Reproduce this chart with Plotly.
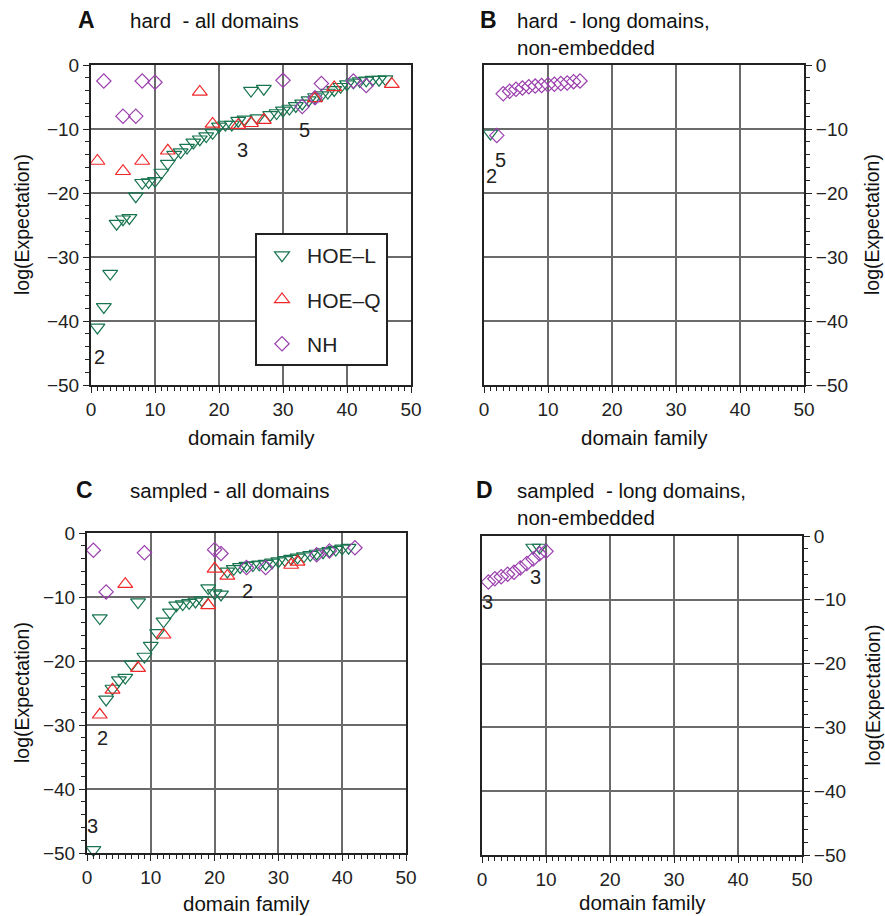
import plotly.graph_objects as go

# ---------------- data ----------------
# Panel A: hard - all domains
A_HOEL_X = list(range(1, 47))
A_HOEL_Y = [-41.0, -37.8, -32.6, -24.8, -24.1, -23.9, -20.5, -18.4, -18.3, -18.1,
            -16.8, -15.4, -14.0, -13.6, -12.9, -12.1, -11.6, -11.1, -10.6, -9.6,
            -9.3, -9.3, -8.7, -8.5, -4.0, -8.3, -3.7, -7.8, -7.5, -7.1,
            -6.8, -6.4, -6.0, -5.5, -5.0, -4.7, -4.3, -3.9, -3.4, -3.0,
            -2.7, -2.5, -2.4, -2.3, -2.3, -2.2]
A_HOEQ_X = [1, 5, 8, 12, 17, 19, 23, 25, 27, 35, 38, 47]
A_HOEQ_Y = [-15.0, -16.6, -15.0, -13.4, -4.2, -9.2, -9.4, -9.1, -8.6, -5.2, -3.5, -3.0]
A_NH_X = [2, 5, 7, 8, 10, 30, 33, 35, 36, 41, 43]
A_NH_Y = [-2.5, -8.0, -8.0, -2.5, -2.7, -2.4, -6.5, -5.1, -2.9, -2.5, -3.2]

# Panel B: hard - long domains, non-embedded
B_HOEL_X = [1]
B_HOEL_Y = [-10.7]
B_NH_X = [2, 3, 4, 5, 6, 7, 8, 9, 10, 11, 12, 13, 14, 15]
B_NH_Y = [-11.0, -4.5, -4.1, -3.8, -3.6, -3.4, -3.3, -3.2, -3.1, -3.0, -2.9, -2.8, -2.6, -2.5]

# Panel C: sampled - all domains
C_HOEL_X = list(range(1, 42))
C_HOEL_Y = [-49.5, -13.3, -26.0, -24.3, -23.0, -22.6, -20.5, -10.8, -19.3, -17.6,
            -15.6, -13.8, -12.4, -11.3, -11.1, -10.9, -10.7, -10.5, -8.6, -9.4,
            -9.6, -6.0, -5.6, -5.3, -5.1, -5.0, -4.9, -4.8, -4.6, -4.4,
            -4.2, -4.0, -3.8, -3.6, -3.4, -3.2, -3.0, -2.8, -2.6, -2.4, -2.3]
C_HOEQ_X = [2, 4, 6, 8, 12, 19, 20, 22, 32, 33]
C_HOEQ_Y = [-28.4, -24.5, -8.0, -21.1, -15.9, -11.3, -5.6, -6.7, -5.0, -4.5]
C_NH_X = [1, 3, 9, 20, 21, 25, 28, 36, 38, 42]
C_NH_Y = [-2.7, -9.2, -3.1, -2.6, -3.2, -5.4, -5.4, -3.4, -2.8, -2.3]

# Panel D: sampled - long domains, non-embedded
D_HOEL_X = [8, 9]
D_HOEL_Y = [-1.8, -1.8]
D_NH_X = [1, 2, 3, 4, 5, 6, 7, 8, 9, 10]
D_NH_Y = [-7.2, -6.7, -6.4, -6.0, -5.7, -5.0, -4.3, -3.6, -2.8, -2.4]

# count labels (x, y, text)
A_LABELS = [(1.4, -45.7, "2"), (23.6, -13.3, "3"), (33.3, -10.2, "5")]
B_LABELS = [(1.2, -17.4, "2"), (2.6, -14.8, "5")]
C_LABELS = [(2.5, -32.0, "2"), (25.1, -9.0, "2"), (0.9, -45.8, "3")]
D_LABELS = [(8.3, -6.4, "3"), (0.9, -10.3, "3")]

SERIES_NAMES = ["HOE\u2013L", "HOE\u2013Q", "NH"]
PANEL_LETTERS = ["A", "B", "C", "D"]
PANEL_TITLES = ["hard\u00a0 - all domains", "hard\u00a0 - long domains,<br>non-embedded",
                "sampled - all domains", "sampled\u00a0 - long domains,<br>non-embedded"]
X_TITLE = "domain family"
Y_TITLE = "log(Expectation)"

# ---------------- style ----------------
W, H = 885, 916
FONT = "Liberation Sans, Arial, Helvetica, sans-serif"
GREEN = "#17744f"
RED = "#f0282a"
PURPLE = "#9b3fae"
STYLES = {
    "HOE\u2013L": dict(symbol="triangle-down-open", color=GREEN),
    "HOE\u2013Q": dict(symbol="triangle-up-open", color=RED),
    "NH": dict(symbol="diamond-open", color=PURPLE),
}

def px(x):
    return x / W

def py(y):
    return 1 - y / H

# panel pixel boxes: (left, right, top, bottom)
BOXES = [(91, 411, 65, 385), (484, 804, 65, 385), (87, 406, 533, 853), (482, 802, 536, 855)]
XTITLE_GAP = [52, 52, 50, 47]

fig = go.Figure()

panels = [
    [(A_HOEL_X, A_HOEL_Y), (A_HOEQ_X, A_HOEQ_Y), (A_NH_X, A_NH_Y)],
    [(B_HOEL_X, B_HOEL_Y), None, (B_NH_X, B_NH_Y)],
    [(C_HOEL_X, C_HOEL_Y), (C_HOEQ_X, C_HOEQ_Y), (C_NH_X, C_NH_Y)],
    [(D_HOEL_X, D_HOEL_Y), None, (D_NH_X, D_NH_Y)],
]
labels = [A_LABELS, B_LABELS, C_LABELS, D_LABELS]

annotations = []
for i, (series, labs) in enumerate(zip(panels, labels)):
    xa = "x" if i == 0 else f"x{i+1}"
    ya = "y" if i == 0 else f"y{i+1}"
    for name, s in zip(SERIES_NAMES, series):
        if s is None:
            continue
        st = STYLES[name]
        size = 11 if name == "NH" else 13
        fig.add_trace(go.Scatter(
            x=s[0], y=s[1], mode="markers", name=name,
            xaxis=xa, yaxis=ya, cliponaxis=False,
            showlegend=(i == 0), legendgroup=name,
            marker=dict(symbol=st["symbol"], size=size, color=st["color"],
                        line=dict(width=1.2, color=st["color"])),
        ))
    for (lx, ly, t) in labs:
        annotations.append(dict(x=lx, y=ly, xref=xa, yref=ya, text=t, showarrow=False,
                                font=dict(size=20, color="#222", family=FONT)))

    l, r, t_, b = BOXES[i]
    right = i in (1, 3)
    axis_common = dict(
        showline=True, linecolor="#222", linewidth=2, mirror=True,
        showgrid=True, gridcolor="#6a6a6a", gridwidth=1.5,
        zeroline=False, ticks="outside", ticklen=6, tickwidth=1.2, tickcolor="#222",
        tickfont=dict(size=19, family=FONT, color="#222"),
        dtick=10, fixedrange=True, automargin=False,
    )
    xkey = "xaxis" if i == 0 else f"xaxis{i+1}"
    ykey = "yaxis" if i == 0 else f"yaxis{i+1}"
    fig.update_layout(**{
        xkey: dict(axis_common, domain=[px(l), px(r)], range=[0, 50], anchor=ya,
                   tick0=0,
                   minor=dict(dtick=1, ticks="outside", ticklen=4, tickwidth=1, tickcolor="#222",
                              showgrid=False)),
        ykey: dict(axis_common, domain=[py(b), py(t_)], range=[-50, 0], anchor=xa,
                   tick0=0, side="right" if right else "left",
                   minor=dict(dtick=2, ticks="outside", ticklen=4, tickwidth=1, tickcolor="#222",
                              showgrid=False)),
    })

    # panel letter + title
    letter_x = [86, 489, 84, 484][i]
    letter_y = [20, 20, 490, 490][i]
    annotations.append(dict(x=px(letter_x), y=py(letter_y), xref="paper", yref="paper",
                            text=f"<b>{PANEL_LETTERS[i]}</b>", showarrow=False,
                            font=dict(size=23, family=FONT, color="#111"),
                            xanchor="center", yanchor="middle"))
    title_x = [128, 515, 128, 515][i]
    annotations.append(dict(x=px(title_x), y=py(letter_y - 13), xref="paper", yref="paper",
                            text=PANEL_TITLES[i], showarrow=False, align="left",
                            font=dict(size=20.5, family=FONT, color="#111"),
                            xanchor="left", yanchor="top"))
    # axis titles
    annotations.append(dict(x=px((l + r) / 2), y=py(b + XTITLE_GAP[i]), xref="paper", yref="paper",
                            text=X_TITLE, showarrow=False,
                            font=dict(size=20.5, family=FONT, color="#111"),
                            xanchor="center", yanchor="middle"))
    ytx = 872 if right else 22
    annotations.append(dict(x=px(ytx), y=py((t_ + b) / 2), xref="paper", yref="paper",
                            text=Y_TITLE, showarrow=False, textangle=-90,
                            font=dict(size=19.5, family=FONT, color="#111"),
                            xanchor="center", yanchor="middle"))

fig.update_layout(
    width=W, height=H,
    margin=dict(l=0, r=0, t=0, b=0, pad=0, autoexpand=False),
    paper_bgcolor="white", plot_bgcolor="white",
    font=dict(family=FONT, color="#111"),
    annotations=annotations,
    showlegend=True,
    legend=dict(x=px(255), y=py(233), xanchor="left", yanchor="top",
                bgcolor="white", bordercolor="#222", borderwidth=2,
                font=dict(size=21, family=FONT, color="#222"),
                tracegroupgap=14, itemwidth=40),
)

fig.write_html("out.html", config={"displayModeBar": False},
               post_script="document.body.style.margin='0px';")
